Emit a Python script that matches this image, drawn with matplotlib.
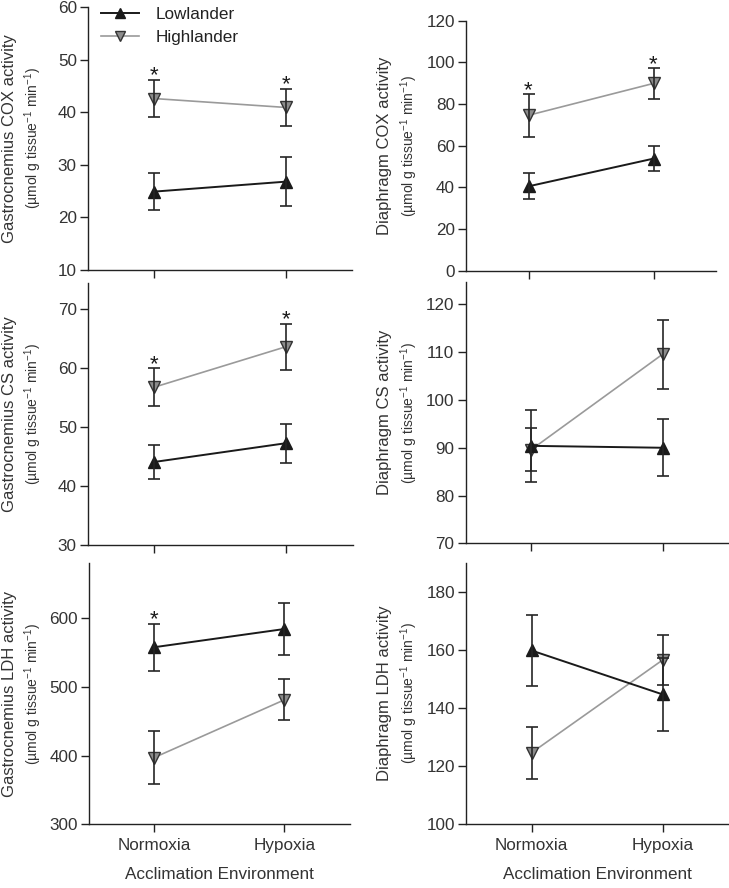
import matplotlib
matplotlib.use('Agg')
import matplotlib.pyplot as plt
from matplotlib.lines import Line2D

plt.rcParams['font.family'] = ['Liberation Sans', 'DejaVu Sans']
plt.rcParams['mathtext.fontset'] = 'custom'
plt.rcParams['mathtext.rm'] = 'Liberation Sans'
plt.rcParams['mathtext.default'] = 'regular'

# Values (mean and error bar half-length)
conditions = ['Normoxia', 'Hypoxia']
groups = ['Lowlander', 'Highlander']

gas_cox_low, gas_cox_low_err = [24.9, 26.8], [3.5, 4.6]
gas_cox_high, gas_cox_high_err = [42.6, 40.9], [3.6, 3.6]
gas_cox_sig = [True, True]

dia_cox_low, dia_cox_low_err = [40.5, 53.8], [6.3, 5.9]
dia_cox_high, dia_cox_high_err = [74.6, 89.9], [10.2, 7.3]
dia_cox_sig = [True, True]

gas_cs_low, gas_cs_low_err = [44.1, 47.3], [2.9, 3.3]
gas_cs_high, gas_cs_high_err = [56.8, 63.7], [3.2, 3.9]
gas_cs_sig = [True, True]

dia_cs_low, dia_cs_low_err = [90.4, 90.0], [7.6, 6.0]
dia_cs_high, dia_cs_high_err = [89.6, 109.6], [4.5, 7.2]
dia_cs_sig = [False, False]

gas_ldh_low, gas_ldh_low_err = [557.5, 584.0], [34.5, 38.2]
gas_ldh_high, gas_ldh_high_err = [397.0, 481.0], [38.0, 30.0]
gas_ldh_sig = [True, False]

dia_ldh_low, dia_ldh_low_err = [159.8, 144.7], [12.3, 12.6]
dia_ldh_high, dia_ldh_high_err = [124.6, 156.5], [8.9, 8.5]
dia_ldh_sig = [False, False]

ylabels = ['Gastrocnemius COX activity', 'Diaphragm COX activity',
           'Gastrocnemius CS activity', 'Diaphragm CS activity',
           'Gastrocnemius LDH activity', 'Diaphragm LDH activity']
unit_label = r'(µmol g tissue$^{-1}$ min$^{-1}$)'

W, H = 729, 888
fig = plt.figure(figsize=(W / 100, H / 100), dpi=100)


def box(left, right, top, bottom):
    return [left / W, 1 - bottom / H, (right - left) / W, (bottom - top) / H]


panels = [
    # (box in pixels, ylim, yticks, data)
    (box(88, 352, 7, 270), (10, 60), range(10, 61, 10),
     gas_cox_low, gas_cox_low_err, gas_cox_high, gas_cox_high_err, gas_cox_sig),
    (box(466, 716, 20.7, 270.7), (0, 120), range(0, 121, 20),
     dia_cox_low, dia_cox_low_err, dia_cox_high, dia_cox_high_err, dia_cox_sig),
    (box(88, 352.5, 283, 545), (30, 74.5), range(30, 71, 10),
     gas_cs_low, gas_cs_low_err, gas_cs_high, gas_cs_high_err, gas_cs_sig),
    (box(465.5, 728.5, 282, 543.3), (70, 124.7), range(70, 121, 10),
     dia_cs_low, dia_cs_low_err, dia_cs_high, dia_cs_high_err, dia_cs_sig),
    (box(89, 349.5, 563, 824.3), (300, 680), range(300, 601, 100),
     gas_ldh_low, gas_ldh_low_err, gas_ldh_high, gas_ldh_high_err, gas_ldh_sig),
    (box(466, 728, 562.7, 824.3), (100, 190), range(100, 181, 20),
     dia_ldh_low, dia_ldh_low_err, dia_ldh_high, dia_ldh_high_err, dia_ldh_sig),
]

low_col = '#1a1a1a'
high_line = '#9a9a9a'
high_fill = '#8c8c8c'
err_col = '#262626'
xpos = [0, 1]

for i, (rect, ylim, yticks, lo, lo_e, hi, hi_e, sig) in enumerate(panels):
    ax = fig.add_axes(rect)
    ax.plot(xpos, hi, color=high_line, lw=1.2, marker='v', ms=9,
            mfc=high_fill, mec='#333333', mew=1.0, zorder=2)
    ax.plot(xpos, lo, color=low_col, lw=1.4, marker='^', ms=9,
            mfc=low_col, mec=low_col, zorder=2)
    ax.errorbar(xpos, hi, yerr=hi_e, fmt='none', ecolor=err_col,
                elinewidth=1.2, capsize=4.5, capthick=1.2, zorder=3)
    ax.errorbar(xpos, lo, yerr=lo_e, fmt='none', ecolor=err_col,
                elinewidth=1.2, capsize=4.5, capthick=1.2, zorder=3)
    for j, s in enumerate(sig):
        if s:
            top = max(lo[j] + lo_e[j], hi[j] + hi_e[j])
            ax.annotate('*', (xpos[j], top), xytext=(0, -5),
                        textcoords='offset points', ha='center', va='bottom',
                        fontsize=16, color='#1a1a1a')

    ax.set_xlim(-0.5, 1.5)
    ax.set_ylim(*ylim)
    ax.set_yticks(list(yticks))
    ax.set_xticks(xpos)
    for side in ['top', 'right']:
        ax.spines[side].set_visible(False)
    for side in ['left', 'bottom']:
        ax.spines[side].set_linewidth(1.0)
        ax.spines[side].set_color('#222222')
    ax.tick_params(direction='out', length=6, width=1.0, colors='#222222',
                   labelsize=12.3, labelcolor='#333333')
    ax.tick_params(axis='y', pad=2)
    if i >= 4:
        ax.set_xticklabels(conditions)
        ax.tick_params(axis='x', pad=4)
        ax.set_xlabel('Acclimation Environment', fontsize=12.3,
                      color='#333333', labelpad=10)
    else:
        ax.set_xticklabels([])

    # two-line y label, second line smaller
    pos = ax.get_position()
    yc = (pos.y0 + pos.y1) / 2
    x0 = 9.5 / W if i % 2 == 0 else 385 / W
    fig.text(x0, yc, ylabels[i], rotation=90, ha='center', va='center',
             fontsize=12, color='#333333')
    fig.text(x0 + 24 / W, yc, unit_label, rotation=90, ha='center',
             va='center', fontsize=10, color='#333333')

handles = [
    Line2D([], [], color=low_col, lw=1.4, marker='^', ms=7, mfc=low_col,
           mec=low_col),
    Line2D([], [], color=high_line, lw=1.2, marker='v', ms=7, mfc=high_fill,
           mec='#333333'),
]
fig.legend(handles, groups, loc='upper left', frameon=False, fontsize=12.3,
           bbox_to_anchor=(89 / W, 1 + 5 / H), handlelength=2.2,
           handletextpad=1.0, labelspacing=0.45, borderpad=0.2,
           labelcolor='#222222')

fig.savefig('out.png', dpi=100)
